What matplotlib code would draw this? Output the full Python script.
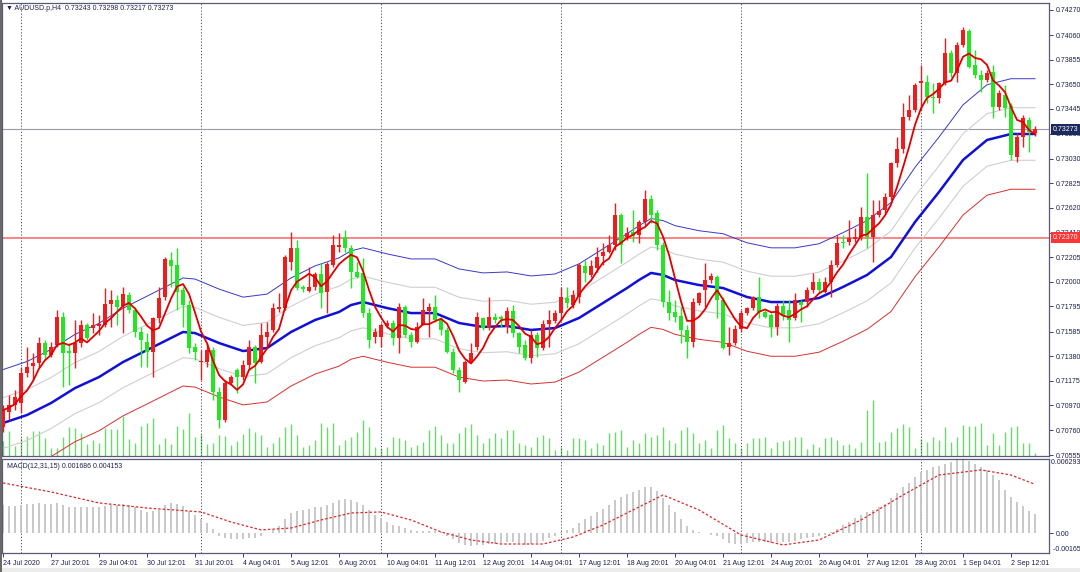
import numpy as np
import pandas as pd
import matplotlib
matplotlib.use("Agg")
from matplotlib import pyplot as plt
from matplotlib.patches import Rectangle

plt.rcParams['font.family'] = ['Liberation Sans', 'DejaVu Sans']

# ---- data ----
tick_bars = list(range(0, 169, 8))
tick_labels = ['24 Jul 2020', '27 Jul 20:01', '29 Jul 04:01', '30 Jul 12:01', '31 Jul 20:01',
               '4 Aug 04:01', '5 Aug 12:01', '6 Aug 20:01', '10 Aug 04:01', '11 Aug 12:01',
               '12 Aug 20:01', '14 Aug 04:01', '17 Aug 12:01', '18 Aug 20:01', '20 Aug 04:01',
               '21 Aug 12:01', '24 Aug 20:01', '26 Aug 04:01', '27 Aug 12:01', '28 Aug 20:01',
               '1 Sep 04:01', '2 Sep 12:01']
separator_bars = [3, 33, 63, 93, 123, 153]

price_ticks = [0.74270, 0.74060, 0.73855, 0.73650, 0.73445, 0.73235, 0.73030, 0.72825,
               0.72620, 0.72410, 0.72205, 0.72000, 0.71795, 0.71585, 0.71380, 0.71175,
               0.70970, 0.70760, 0.70555]

open_ = [0.70789, 0.70914, 0.70972, 0.70989, 0.71239, 0.71298, 0.71323, 0.71490, 0.71390, 0.71473,
         0.71707, 0.71423, 0.71406, 0.71490, 0.71640, 0.71615, 0.71632, 0.71640, 0.71816, 0.71849,
         0.71799, 0.71891, 0.71766, 0.71582, 0.71498, 0.71415, 0.71699, 0.71874, 0.72183, 0.72141,
         0.71933, 0.71807, 0.71457, 0.71331, 0.71331, 0.71431, 0.71081, 0.70847, 0.71156, 0.71264,
         0.71206, 0.71306, 0.71457, 0.71331, 0.71540, 0.71599, 0.71774, 0.71782, 0.72166, 0.72283,
         0.71958, 0.71924, 0.71958, 0.72066, 0.71916, 0.72141, 0.72292, 0.72375, 0.72283, 0.72083,
         0.72075, 0.71740, 0.71540, 0.71540, 0.71632, 0.71657, 0.71532, 0.71791, 0.71557, 0.71498,
         0.71640, 0.71757, 0.71791, 0.71682, 0.71599, 0.71415, 0.71264, 0.71164, 0.71331, 0.71457,
         0.71699, 0.71615, 0.71707, 0.71707, 0.71624, 0.71757, 0.71573, 0.71473, 0.71365, 0.71557,
         0.71448, 0.71649, 0.71674, 0.71740, 0.71866, 0.71807, 0.71874, 0.72133, 0.72058, 0.72116,
         0.72216, 0.72250, 0.72308, 0.72559, 0.72375, 0.72417, 0.72392, 0.72500, 0.72692, 0.72575,
         0.72308, 0.71832, 0.71749, 0.71715, 0.71599, 0.71498, 0.71824, 0.71933, 0.72016, 0.72041,
         0.71849, 0.71457, 0.71490, 0.71607, 0.71740, 0.71782, 0.71874, 0.71749, 0.71724, 0.71624,
         0.71799, 0.71766, 0.71699, 0.71832, 0.71832, 0.71933, 0.71999, 0.71916, 0.71999, 0.72141,
         0.72333, 0.72333, 0.72358, 0.72375, 0.72542, 0.72375, 0.72559, 0.72601, 0.72709, 0.72993,
         0.73110, 0.73377, 0.73436, 0.73661, 0.73669, 0.73544, 0.73536, 0.73661, 0.73911, 0.73744,
         0.73978, 0.74095, 0.73811, 0.73728, 0.73686, 0.73753, 0.73461, 0.73561, 0.73469, 0.73043,
         0.73210, 0.73352, 0.73243]
high = [0.70972, 0.71056, 0.71097, 0.71290, 0.71457, 0.71406, 0.71540, 0.71515, 0.71498, 0.71766,
        0.71749, 0.71490, 0.71682, 0.71682, 0.71657, 0.71740, 0.71724, 0.71949, 0.71933, 0.71891,
        0.71958, 0.71916, 0.71791, 0.71624, 0.71573, 0.71707, 0.71958, 0.72208, 0.72250, 0.72283,
        0.71958, 0.71849, 0.71490, 0.71431, 0.71490, 0.71457, 0.71123, 0.71181, 0.71223, 0.71281,
        0.71348, 0.71515, 0.71473, 0.71657, 0.71665, 0.71824, 0.71908, 0.72225, 0.72417, 0.72350,
        0.71974, 0.72125, 0.72083, 0.72158, 0.72166, 0.72392, 0.72408, 0.72434, 0.72308, 0.72166,
        0.72200, 0.71782, 0.71615, 0.71657, 0.71682, 0.71682, 0.71824, 0.71807, 0.71582, 0.71665,
        0.71866, 0.71824, 0.71891, 0.71707, 0.71624, 0.71448, 0.71290, 0.71348, 0.71490, 0.71749,
        0.71707, 0.71874, 0.71740, 0.71724, 0.71791, 0.71807, 0.71582, 0.71515, 0.71599, 0.71582,
        0.71682, 0.71766, 0.71766, 0.71958, 0.71958, 0.71933, 0.72158, 0.72183, 0.72183, 0.72292,
        0.72325, 0.72392, 0.72659, 0.72575, 0.72458, 0.72601, 0.72517, 0.72768, 0.72726, 0.72601,
        0.72333, 0.71933, 0.71849, 0.71791, 0.71640, 0.71866, 0.71916, 0.72158, 0.72075, 0.72058,
        0.71874, 0.71624, 0.71640, 0.71766, 0.71791, 0.71880, 0.72041, 0.71766, 0.71740, 0.71824,
        0.71849, 0.71849, 0.71908, 0.71849, 0.71958, 0.72075, 0.72033, 0.72041, 0.72183, 0.72392,
        0.72392, 0.72517, 0.72450, 0.72626, 0.72909, 0.72684, 0.72684, 0.72743, 0.73001, 0.73210,
        0.73494, 0.73561, 0.73661, 0.73811, 0.73728, 0.73661, 0.73669, 0.74037, 0.73937, 0.74003,
        0.74129, 0.74112, 0.73937, 0.73770, 0.73770, 0.73811, 0.73603, 0.73644, 0.73494, 0.73243,
        0.73394, 0.73377, 0.73298]
low = [0.70747, 0.70847, 0.70930, 0.70905, 0.71206, 0.71181, 0.71290, 0.71348, 0.71373, 0.71457,
       0.71123, 0.71139, 0.71281, 0.71457, 0.71515, 0.71573, 0.71557, 0.71624, 0.71624, 0.71640,
       0.71573, 0.71740, 0.71540, 0.71290, 0.71290, 0.71206, 0.71657, 0.71849, 0.71958, 0.71766,
       0.71624, 0.71406, 0.71348, 0.71181, 0.71290, 0.71014, 0.70780, 0.70830, 0.71139, 0.71072,
       0.71181, 0.71264, 0.71156, 0.71323, 0.71457, 0.71582, 0.71749, 0.71766, 0.72100, 0.71933,
       0.71916, 0.71916, 0.71933, 0.71782, 0.71740, 0.72125, 0.72250, 0.72250, 0.71949, 0.72033,
       0.71707, 0.71448, 0.71490, 0.71457, 0.71615, 0.71473, 0.71406, 0.71540, 0.71457, 0.71490,
       0.71640, 0.71540, 0.71665, 0.71557, 0.71406, 0.71239, 0.71081, 0.71156, 0.71323, 0.71431,
       0.71599, 0.71599, 0.71657, 0.71624, 0.71573, 0.71540, 0.71406, 0.71348, 0.71323, 0.71373,
       0.71431, 0.71457, 0.71657, 0.71682, 0.71782, 0.71782, 0.71824, 0.71999, 0.72041, 0.72083,
       0.72141, 0.72242, 0.72267, 0.72158, 0.72350, 0.72333, 0.72325, 0.72475, 0.72492, 0.72267,
       0.71791, 0.71682, 0.71665, 0.71490, 0.71365, 0.71457, 0.71807, 0.71791, 0.71991, 0.71699,
       0.71440, 0.71390, 0.71473, 0.71582, 0.71724, 0.71766, 0.71699, 0.71699, 0.71540, 0.71557,
       0.71682, 0.71498, 0.71682, 0.71665, 0.71791, 0.71908, 0.71908, 0.71908, 0.71874, 0.72125,
       0.72283, 0.72308, 0.72333, 0.72350, 0.72283, 0.72166, 0.72542, 0.72575, 0.72684, 0.72960,
       0.73076, 0.73352, 0.73419, 0.73436, 0.73494, 0.73411, 0.73494, 0.73644, 0.73711, 0.73669,
       0.73962, 0.73786, 0.73703, 0.73586, 0.73669, 0.73369, 0.73436, 0.73377, 0.73018, 0.73001,
       0.73126, 0.73085, 0.73217]
close = [0.70930, 0.70972, 0.71039, 0.71239, 0.71290, 0.71323, 0.71490, 0.71390, 0.71457, 0.71707,
         0.71406, 0.71406, 0.71490, 0.71640, 0.71532, 0.71640, 0.71649, 0.71816, 0.71849, 0.71791,
         0.71899, 0.71766, 0.71582, 0.71515, 0.71415, 0.71699, 0.71866, 0.72191, 0.72133, 0.71916,
         0.71807, 0.71448, 0.71415, 0.71340, 0.71431, 0.71081, 0.70847, 0.71156, 0.71206, 0.71206,
         0.71306, 0.71457, 0.71323, 0.71557, 0.71582, 0.71782, 0.71791, 0.72208, 0.72283, 0.71949,
         0.71941, 0.71958, 0.72066, 0.71908, 0.72150, 0.72308, 0.72308, 0.72283, 0.72083, 0.72041,
         0.71740, 0.71515, 0.71582, 0.71640, 0.71657, 0.71532, 0.71791, 0.71557, 0.71498, 0.71624,
         0.71766, 0.71791, 0.71682, 0.71599, 0.71415, 0.71264, 0.71181, 0.71331, 0.71406, 0.71707,
         0.71615, 0.71707, 0.71682, 0.71690, 0.71757, 0.71573, 0.71457, 0.71365, 0.71557, 0.71448,
         0.71649, 0.71682, 0.71740, 0.71874, 0.71824, 0.71891, 0.72141, 0.72075, 0.72133, 0.72208,
         0.72250, 0.72308, 0.72559, 0.72308, 0.72408, 0.72383, 0.72500, 0.72692, 0.72559, 0.72308,
         0.71832, 0.71740, 0.71707, 0.71599, 0.71498, 0.71832, 0.71908, 0.72016, 0.72049, 0.71849,
         0.71448, 0.71490, 0.71607, 0.71740, 0.71782, 0.71874, 0.71749, 0.71707, 0.71624, 0.71799,
         0.71715, 0.71682, 0.71849, 0.71807, 0.71933, 0.71999, 0.71933, 0.71999, 0.72141, 0.72325,
         0.72325, 0.72367, 0.72375, 0.72542, 0.72375, 0.72559, 0.72592, 0.72709, 0.72993, 0.73110,
         0.73377, 0.73436, 0.73644, 0.73678, 0.73544, 0.73536, 0.73661, 0.73911, 0.73744, 0.73978,
         0.74104, 0.73795, 0.73728, 0.73686, 0.73744, 0.73461, 0.73578, 0.73452, 0.73060, 0.73210,
         0.73369, 0.73252, 0.73273]

# tick volume (relative)
volume = [1500, 2500, 1000, 1800, 2000, 2500, 2500, 1800, 800, 800,
          1900, 2900, 2800, 2300, 1200, 1600, 1300, 2800, 2700, 2700,
          4000, 1700, 1300, 3000, 3300, 3800, 1200, 1800, 1200, 3000,
          2700, 4300, 1900, 2200, 1200, 1300, 2100, 2000, 1100, 1500,
          2200, 2800, 2400, 2100, 900, 1300, 1900, 2900, 3200, 2100,
          900, 1100, 1600, 3300, 2900, 3300, 1100, 1600, 1900, 2400,
          3600, 2900, 900, 800, 900, 1900, 1800, 1600, 900, 1100,
          1400, 2600, 3000, 2100, 1300, 1300, 2300, 2900, 3200, 2100,
          1300, 1800, 2300, 1800, 2600, 2600, 1300, 1100, 900, 1900,
          2100, 1800, 600, 900, 600, 1800, 1800, 1600, 800, 1300,
          1100, 2300, 2400, 2600, 900, 1600, 1300, 2300, 1900, 2100,
          2900, 1600, 1300, 2600, 2900, 2300, 1300, 1600, 800, 2600,
          3100, 1800, 1300, 800, 1300, 1800, 1800, 1900, 800, 1400,
          1500, 1600, 1900, 1900, 700, 1200, 900, 1800, 1900, 1600,
          1100, 1200, 800, 1400, 4600, 5600, 1400, 1500, 2400, 2800,
          3200, 2900, 800, 1700, 1400, 1900, 1600, 2900, 1400, 1900,
          3100, 3000, 3000, 3300, 1100, 2300, 1100, 2400, 2900, 3000,
          1300, 1300, 300]

# slow moving average (thick blue), read every few bars
ma_bars = [0, 4, 8, 12, 16, 20, 24, 28, 30, 32, 36, 40, 44, 48, 52, 56, 58, 60, 62, 64,
           68, 72, 76, 80, 84, 88, 92, 96, 100, 104, 106, 108, 110, 112, 116, 120, 124, 128,
           132, 136, 140, 144, 148, 152, 156, 160, 164, 168, 172]
ma_values = [0.70822, 0.70889, 0.70989, 0.71114, 0.71206, 0.71331, 0.71431, 0.71532, 0.71582,
             0.71573, 0.71490, 0.71423, 0.71448, 0.71582, 0.71682, 0.71749, 0.71807, 0.71832,
             0.71807, 0.71782, 0.71740, 0.71740, 0.71657, 0.71624, 0.71632, 0.71599, 0.71615,
             0.71699, 0.71824, 0.71949, 0.72016, 0.72075, 0.72058, 0.72016, 0.71974, 0.71949,
             0.71874, 0.71832, 0.71832, 0.71866, 0.71958, 0.72058, 0.72208, 0.72500, 0.72751,
             0.73018, 0.73185, 0.73235, 0.73235]
env_inner = 0.0030   # envelope deviation, grey lines
env_outer = 0.0063   # envelope deviation, blue / red thin lines

# MACD(12,31,15) main values (histogram)
macd = [0.0024, 0.0023, 0.0023, 0.0024, 0.0025, 0.0025, 0.0026, 0.0025, 0.0025, 0.0026,
        0.0024, 0.0022, 0.0022, 0.0022, 0.0022, 0.0022,
        0.0022, 0.0023, 0.0024, 0.0024, 0.0025, 0.0024, 0.0022, 0.0020, 0.0018, 0.0019,
        0.0020, 0.0024, 0.0026, 0.0025, 0.0023, 0.0019, 0.0016,
        0.0012, 0.0009, 0.0004, -0.0002, -0.0004, -0.0005, -0.0005, -0.0005, -0.0004, -0.0004,
        -0.0002, 0.0000, 0.0003, 0.0006, 0.0012, 0.0017, 0.0019, 0.0020, 0.0021, 0.0022,
        0.0022, 0.0024, 0.0026, 0.0028, 0.0029, 0.0028, 0.0027, 0.0024, 0.0020, 0.0016, 0.0013,
        0.0010, 0.0007, 0.0006, 0.0005, 0.0003, 0.0002, 0.0002, 0.0002, 0.0002, 0.0001,
        -0.0002, -0.0005, -0.0008, -0.0010, -0.0011, -0.0010, -0.0010, -0.0009, -0.0009, -0.0008,
        -0.0007, -0.0007, -0.0008, -0.0010, -0.0009, -0.0008, -0.0006, -0.0004, -0.0002,
        0.0001, 0.0003, 0.0005, 0.0009, 0.0012, 0.0015, 0.0018, 0.0021, 0.0024, 0.0028,
        0.0031, 0.0033, 0.0035, 0.0037, 0.0039, 0.0039, 0.0036, 0.0030,
        0.0024, 0.0018, 0.0012, 0.0006, 0.0003, 0.0001, 0.0000, -0.0001, -0.0002, -0.0005,
        -0.0008, -0.0009, -0.0009, -0.0008, -0.0007, -0.0007, -0.0007, -0.0008, -0.0007, -0.0007,
        -0.0007, -0.0006, -0.0005, -0.0004, -0.0003, -0.0002, -0.0001,
        0.0001, 0.0004, 0.0007, 0.0010, 0.0013, 0.0016, 0.0018, 0.0020, 0.0022, 0.0025,
        0.0030, 0.0034, 0.0039, 0.0043, 0.0048, 0.0052, 0.0054, 0.0056, 0.0057, 0.0059,
        0.0060, 0.0062, 0.0062, 0.0061, 0.0059, 0.0056, 0.0054, 0.0049, 0.0045, 0.0037,
        0.0031, 0.0027, 0.0023, 0.0019, 0.001686]
signal_bars = [0, 8, 16, 24, 33, 38, 43, 48, 53, 58, 63, 68, 73, 78, 83, 90, 95, 100, 105,
               110, 116, 123, 130, 136, 143, 150, 156, 163, 168, 172]
signal_values = [0.00427, 0.00351, 0.00258, 0.00215, 0.00182, 0.00097, 0.00030, 0.00046,
                 0.00114, 0.00173, 0.00182, 0.00114, 0.00013, -0.00055, -0.00089, -0.00089,
                 -0.00030, 0.00072, 0.00199, 0.00325, 0.00199, -0.00013, -0.00097, -0.00055,
                 0.00114, 0.00325, 0.00494, 0.00537, 0.00494, 0.004153]

bid = 0.73273
level = 0.72370

assert len(open_) == len(high) == len(low) == len(close) == len(volume) == len(macd)

o = np.array(open_)
h = np.array(high)
l = np.array(low)
c = np.array(close)
x = np.arange(len(c))
fast_ma = pd.Series(c).rolling(5, min_periods=1).mean()
ma = np.array(ma_values)

W, H = 1080, 572
fig = plt.figure(figsize=(W / 100, H / 100), dpi=100)
fig.patch.set_facecolor('white')

AXCOL = '#5a5a78'
TXT = '#1e1e4a'
FS = 5.05

# light window strip at the very bottom and dark left border
fig.patches.append(Rectangle((0, 0), 1, 4 / H, transform=fig.transFigure,
                             fc='#ececec', ec='none', zorder=0))
fig.patches.append(Rectangle((0, 0), 1.5 / W, 1, transform=fig.transFigure,
                             fc='#6a6a6a', ec='none', zorder=0))

main_rect = [2 / W, (H - 456) / H, 1047 / W, 453 / H]
ax_vol = fig.add_axes(main_rect)
ax = fig.add_axes(main_rect, sharex=ax_vol)
ax.patch.set_alpha(0)
ax_m = fig.add_axes([2 / W, (H - 553) / H, 1047 / W, 94 / H], sharex=ax_vol)

xlim = (-0.17, 174.33)
ax_vol.set_xlim(*xlim)
ax_vol.set_ylim(0, 45300)
ax_vol.vlines(x, 0, volume, colors='#6ada6a', lw=1.0)
ax_vol.axis('off')

# period separators
for a in (ax, ax_m):
    for b in separator_bars:
        a.axvline(b, color='#484858', lw=0.7, ls=(0, (1.2, 2)), zorder=1)

# indicator lines
ax.plot(ma_bars, ma * (1 + env_outer), color='#3838c8', lw=0.7, zorder=2)
ax.plot(ma_bars, ma * (1 - env_outer), color='#d83030', lw=0.7, zorder=2)
ax.plot(ma_bars, ma * (1 + env_inner), color='#cfcfcf', lw=0.8, zorder=2)
ax.plot(ma_bars, ma * (1 - env_inner), color='#cfcfcf', lw=0.8, zorder=2)
ax.plot(ma_bars, ma, color='#1010d8', lw=1.8, zorder=2)

ax.axhline(bid, color='#9a9aa8', lw=0.8, zorder=1)
ax.axhline(level, color='#ff7070', lw=1.2, zorder=1)

# candles: red = bullish, green = bearish
up = c >= o
cols = np.where(up, '#ee1c1c', '#22e622')
ax.vlines(x, l, h, colors=cols, lw=1.0, zorder=3)
body = np.maximum(np.abs(c - o), 0.00003)
ax.bar(x, body, bottom=np.minimum(o, c), width=0.62, color=cols, linewidth=0, zorder=4)
ax.plot(x, fast_ma, color='#e00000', lw=1.3, zorder=5)

ax.set_ylim(0.705468, 0.743284)
ax.yaxis.tick_right()
ax.set_yticks(price_ticks)
ax.set_yticklabels([f'{v:.5f}' for v in price_ticks])
ax.tick_params(axis='y', labelsize=FS, colors=TXT, length=3, width=0.6, pad=1.5)
ax.tick_params(axis='x', bottom=False, labelbottom=False)
for s in ax.spines.values():
    s.set_color(AXCOL)
    s.set_linewidth(0.9)

# price tags on the axis
for val, fc in ((bid, '#1c2a5c'), (level, '#ff3434')):
    ax.annotate(f'{val:.5f}', xy=(1, val), xycoords=('axes fraction', 'data'),
                xytext=(2.5, 0), textcoords='offset points', ha='left', va='center',
                fontsize=FS, color='white', annotation_clip=False, zorder=10,
                bbox=dict(boxstyle='square,pad=0.25', fc=fc, ec='none'))

fig.text(6 / W, 1 - 9 / H, '\u25bc AUDUSD.p,H4  0.73243 0.73298 0.73217 0.73273',
         fontsize=FS, color=TXT, va='center', ha='left')

# MACD window
ax_m.vlines(x, 0, macd, colors='#c4c4c4', lw=1.3)
ax_m.plot(signal_bars, signal_values, color='#e02828', lw=0.9, ls=(0, (2, 1.6)))
ax_m.set_ylim(-0.00165, 0.006293)
ax_m.yaxis.tick_right()
ax_m.set_yticks([0.0])
ax_m.set_yticklabels(['0.00'])
ax_m.tick_params(axis='y', labelsize=FS, colors=TXT, length=3, width=0.6, pad=1.5)
ax_m.text(1.0, 1.0, ' 0.006293', transform=ax_m.transAxes, fontsize=FS, color=TXT,
          ha='left', va='top')
ax_m.text(1.0, 0.0, '  -0.00165', transform=ax_m.transAxes, fontsize=FS, color=TXT,
          ha='left', va='bottom')
ax_m.text(5 / 1047, 1 - 7 / 94, 'MACD(12,31,15) 0.001686 0.004153', transform=ax_m.transAxes,
          fontsize=FS, color=TXT, ha='left', va='center')
ax_m.set_xticks(tick_bars)
ax_m.set_xticklabels(tick_labels)
for lab in ax_m.get_xticklabels():
    lab.set_horizontalalignment('left')
ax_m.tick_params(axis='x', labelsize=FS, colors=TXT, length=3, width=0.6, pad=2)
for s in ax_m.spines.values():
    s.set_color(AXCOL)
    s.set_linewidth(0.9)

fig.savefig('out.png', dpi=100, facecolor='white')
